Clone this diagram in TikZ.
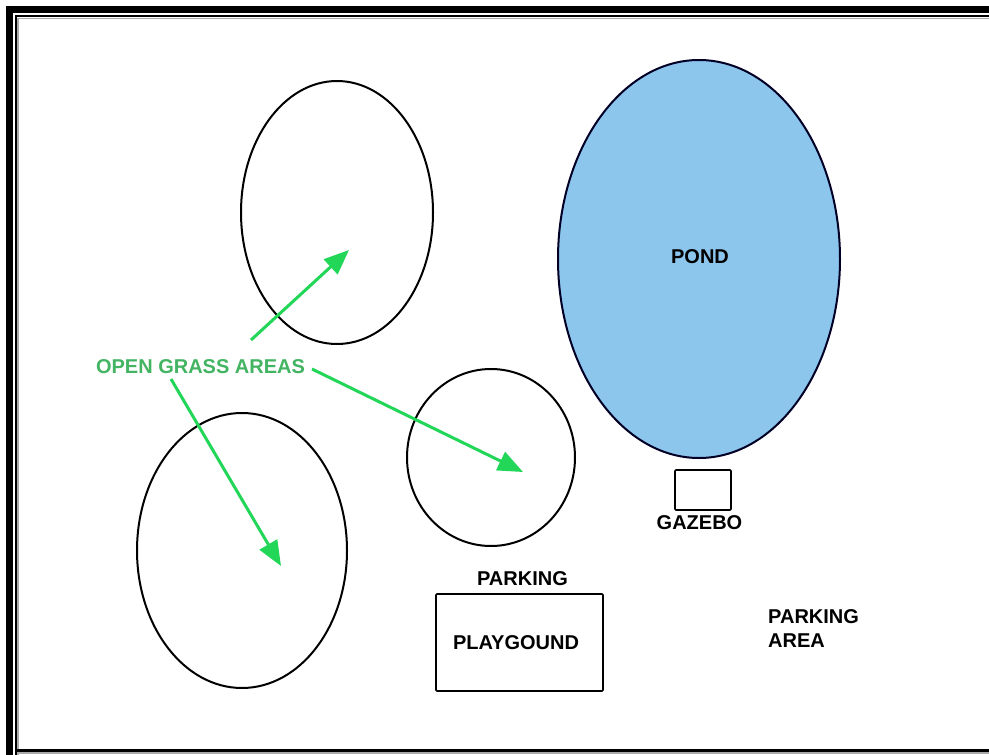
\documentclass[tikz,border=0pt]{standalone}
\usepackage{fontspec}
\setmainfont{Liberation Sans}
\usetikzlibrary{arrows.meta}
\definecolor{pondblue}{RGB}{141,198,236}
\definecolor{labelgreen}{RGB}{66,180,98}
\definecolor{arrowgreen}{RGB}{34,214,88}
\definecolor{edgegray}{RGB}{170,170,170}
\tikzset{
  area/.style={draw=black, line width=2pt},
  lbl/.style={font=\fontsize{20}{23.5}\selectfont\bfseries, inner sep=0pt, text=black},
  greenlbl/.style={lbl, text=labelgreen},
  pointer/.style={draw=arrowgreen, line width=3pt,
    -{Triangle[length=25pt,width=20pt]}},
}
\begin{document}
\begin{tikzpicture}[x=1pt,y=-1pt]
  \useasboundingbox (0,0) rectangle (989,755);
  \fill[white] (0,0) rectangle (989,755);

  % frame: heavy outer bars, thin inner rule with a faint gray edge
  \fill[black] (6,6) rectangle (13,755);
  \fill[black] (6,6) rectangle (989,13);
  \draw[edgegray, line width=1.5pt] (18,755) -- (18,18.5) -- (989,18.5);
  \draw[edgegray, line width=1.5pt] (16,753) -- (989,753);
  \draw[black, line width=2.6pt] (16,755) -- (16,16) -- (989,16);
  \draw[black, line width=2.8pt] (14.7,750.5) -- (989,750.5);

  % grass areas
  \draw[area] (337,212.5) ellipse [x radius=96, y radius=131.5];
  \draw[area] (242,550.5) ellipse [x radius=105, y radius=137.5];
  \draw[area] (491,457.5) ellipse [x radius=84, y radius=88.5];

  % pond
  \draw[area, draw=black!85!blue, fill=pondblue] (699,259) ellipse [x radius=141, y radius=199];
  \node[lbl] (pond) at (700,256.5) {POND};

  % gazebo
  \draw[area, line width=1.6pt, rounded corners=1pt] (675,470) rectangle (731,510);
  \node[lbl] (gazebo) at (699.5,523) {GAZEBO};

  % playground and parking
  \draw[area, line width=1.6pt, rounded corners=1pt] (436,594) rectangle (603,691);
  \node[lbl] (playground) at (516,643) {PLAYGOUND};
  \node[lbl] (parking) at (522.5,579) {PARKING};
  \node[lbl, align=left, anchor=north west] (parkarea) at (768,609.5) {PARKING\\AREA};

  % grass-area callout
  \node[greenlbl] (grass) at (200.5,366.5) {OPEN GRASS AREAS};
  \coordinate (tipA) at (349,250);
  \coordinate (tipB) at (523,472);
  \coordinate (tipC) at (281,566);
  \draw[pointer] (251,340) -- (tipA);
  \draw[pointer] (312,369) -- (tipB);
  \draw[pointer] (171,379) -- (tipC);
\end{tikzpicture}
\end{document}
